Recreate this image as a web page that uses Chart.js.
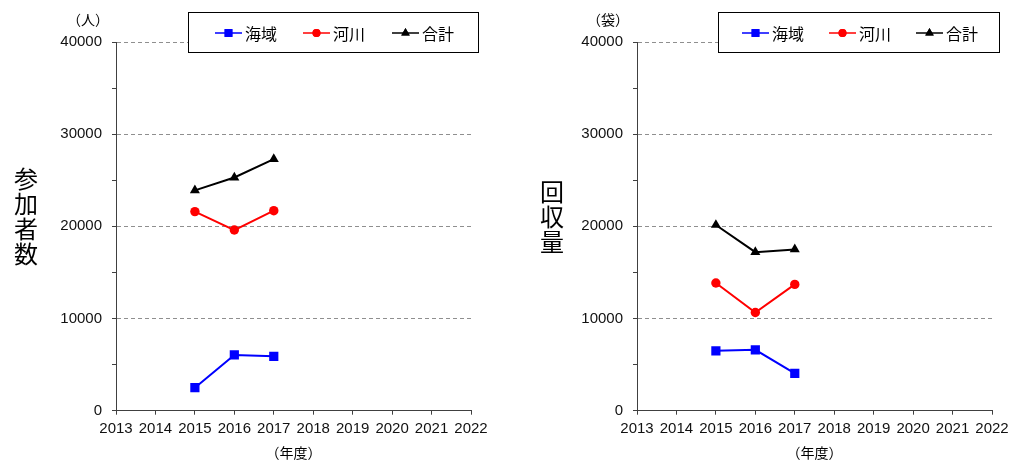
<!DOCTYPE html>
<html>
<head>
<meta charset="utf-8">
<script src="https://cdn.jsdelivr.net/npm/chart.js@4/dist/chart.umd.min.js"></script>
<style>
    html, body { margin: 0; padding: 0; background: #fff; }
    .panel { position: absolute; top: 0; width: 509px; height: 465px; }
</style>
</head>
<body>
<div class="panel" style="left:0"><canvas id="peopleChart" width="509" height="465"></canvas></div>
<div class="panel" style="left:509px"><canvas id="bagsChart" width="509" height="465"></canvas></div>
<script>
// ========================
// DATA
// ========================
const years = [2015, 2016, 2017];
const seriesNames = ['海域', '河川', '合計'];

// 参加者数 (人)
const peopleSea = [2500, 6050, 5900];
const peopleRiver = [21600, 19600, 21700];
const peopleTotal = [23900, 25300, 27300];

// 回収量 (袋)
const bagsSea = [6500, 6600, 4050];
const bagsRiver = [13850, 10650, 13700];
const bagsTotal = [20150, 17200, 17500];

const yearMin = 2013;
const yearMax = 2022;
const valueMax = 40000;

const FONT = '"Liberation Sans", "Noto Sans CJK JP", sans-serif';
const JP_FONT = '"Noto Sans CJK JP", "Liberation Sans", sans-serif';

// ========================
// DECORATION PLUGIN (legend box, titles)
// ========================
const decorPlugin = {
    id: 'decor',
    afterDraw(chart, args, opts) {
        const ctx = chart.ctx;
        const area = chart.chartArea;
        ctx.save();

        // vertical axis title
        ctx.fillStyle = '#000';
        ctx.font = '24px ' + JP_FONT;
        ctx.textAlign = 'center';
        ctx.textBaseline = 'middle';
        opts.yTitle.split('').forEach(function(ch, i) {
            ctx.fillText(ch, opts.titleX, opts.titleY + i * 25);
        });

        // unit and year label
        ctx.font = '14px ' + JP_FONT;
        ctx.fillText(opts.unit, opts.unitX, 20);
        ctx.fillText('（年度）', (area.left + area.right) / 2, 453);

        // legend box
        ctx.fillStyle = '#fff';
        ctx.fillRect(opts.legendX, 12, opts.legendW, 40);
        ctx.strokeStyle = '#000';
        ctx.lineWidth = 1;
        ctx.strokeRect(opts.legendX + 0.5, 12.5, opts.legendW, 40);

        chart.data.datasets.forEach(function(ds, i) {
            const x0 = opts.legendX + opts.itemX[i];
            const y = 33;
            ctx.strokeStyle = ds.borderColor;
            ctx.lineWidth = 1.5;
            ctx.beginPath();
            ctx.moveTo(x0, y);
            ctx.lineTo(x0 + 27, y);
            ctx.stroke();
            ctx.fillStyle = ds.pointBackgroundColor;
            Chart.helpers.drawPoint(ctx, {
                pointStyle: ds.pointStyle,
                radius: ds.pointRadius * 0.85,
                rotation: 0,
                borderWidth: 0
            }, x0 + 13.5, y);
            ctx.fill();
            ctx.fillStyle = '#000';
            ctx.font = '16px ' + JP_FONT;
            ctx.textAlign = 'left';
            ctx.fillText(ds.label, x0 + 30, y + 1);
        });

        ctx.restore();
    }
};

// ========================
// CHART BUILDER
// ========================
function toPoints(values) {
    return values.map(function(v, i) {
        return { x: years[i], y: v };
    });
}

function makeDataset(label, values, color, style, radius) {
    return {
        label: label,
        data: toPoints(values),
        borderColor: color,
        backgroundColor: color,
        pointBackgroundColor: color,
        pointBorderColor: color,
        pointBorderWidth: 0,
        pointStyle: style,
        pointRadius: radius,
        borderWidth: 2,
        tension: 0
    };
}

function buildChart(canvasId, sea, river, total, decor) {
    new Chart(document.getElementById(canvasId), {
        type: 'line',
        data: {
            datasets: [
                makeDataset(seriesNames[0], sea, '#0000ff', 'rect', 6.5),
                makeDataset(seriesNames[1], river, '#ff0000', 'circle', 4.7),
                makeDataset(seriesNames[2], total, '#000000', 'triangle', 5.8)
            ]
        },
        options: {
            responsive: false,
            animation: false,
            layout: {
                padding: { left: 0, top: 42, right: decor.padRight, bottom: 0 }
            },
            plugins: {
                legend: { display: false },
                tooltip: { enabled: false },
                decor: decor
            },
            scales: {
                x: {
                    type: 'linear',
                    min: yearMin,
                    max: yearMax,
                    afterFit: function(scale) { scale.height = 54.3; },
                    ticks: {
                        stepSize: 1,
                        padding: 5,
                        color: '#111',
                        font: { family: FONT, size: 15 },
                        maxRotation: 0,
                        callback: function(v) { return String(v); }
                    },
                    grid: {
                        drawOnChartArea: false,
                        drawTicks: true,
                        tickLength: 4,
                        tickColor: '#404040'
                    },
                    border: { color: '#404040', width: 1 }
                },
                y: {
                    min: 0,
                    max: valueMax,
                    afterFit: function(scale) { scale.width = decor.axisW; },
                    ticks: {
                        stepSize: 5000,
                        padding: 10,
                        color: '#111',
                        font: { family: FONT, size: 15 },
                        callback: function(v) { return v % 10000 === 0 ? String(v) : ''; }
                    },
                    grid: {
                        color: function(c) {
                            const v = c.tick ? c.tick.value : 0;
                            return (v > 0 && v % 10000 === 0) ? '#8f8f8f' : 'rgba(0,0,0,0)';
                        },
                        tickColor: '#404040',
                        tickLength: 4,
                        tickBorderDash: []
                    },
                    border: { color: '#404040', width: 1, dash: [4, 3] }
                }
            }
        },
        plugins: [decorPlugin]
    });
}

// ========================
// RUN
// ========================
buildChart('peopleChart', peopleSea, peopleRiver, peopleTotal, {
    yTitle: '参加者数', titleX: 26, titleY: 179,
    unit: '（人）', unitX: 88,
    legendX: 188, legendW: 290, itemX: [27, 115, 204],
    axisW: 116, padRight: 38
});

buildChart('bagsChart', bagsSea, bagsRiver, bagsTotal, {
    yTitle: '回収量', titleX: 43, titleY: 192,
    unit: '（袋）', unitX: 99,
    legendX: 209, legendW: 281, itemX: [24, 111, 198],
    axisW: 128, padRight: 26
});
</script>
</body>
</html>
